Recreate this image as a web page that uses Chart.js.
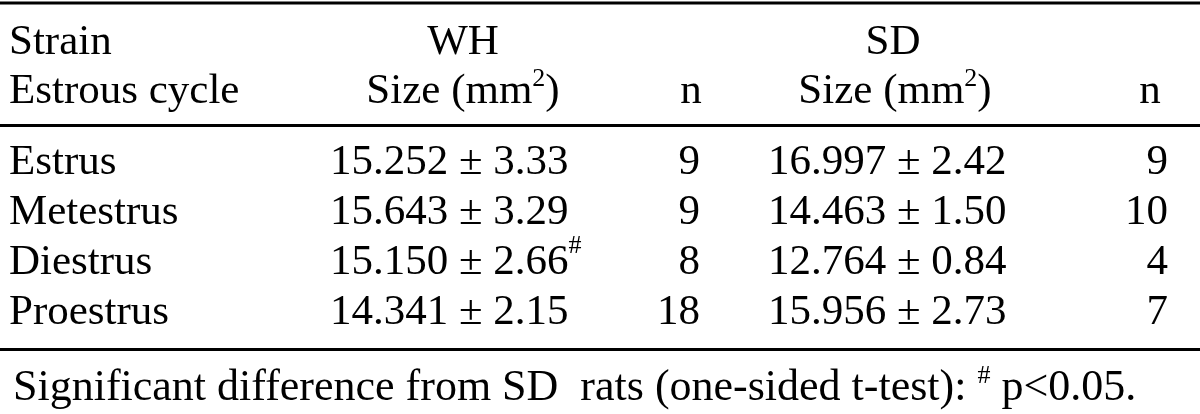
<!DOCTYPE html>
<html>
<head>
<meta charset="utf-8">
<script src="https://cdn.jsdelivr.net/npm/chart.js@4"></script>
<style>
  html, body { margin: 0; background: #fff; }
  #wrap { width: 1200px; height: 414px; position: relative; }
</style>
</head>
<body>
<div id="wrap"><canvas id="table"></canvas></div>
<script>
// table content
const phases = ['Estrus', 'Metestrus', 'Diestrus', 'Proestrus'];
const whMean = [15.252, 15.643, 15.150, 14.341];
const whSem = [3.33, 3.29, 2.66, 2.15];
const whN = [9, 9, 8, 18];
const whFlag = ['', '', '#', ''];
const sdMean = [16.997, 14.463, 12.764, 15.956];
const sdSem = [2.42, 1.50, 0.84, 2.73];
const sdN = [9, 10, 4, 7];
const strains = ['WH', 'SD'];
const footnote = 'Significant difference from SD  rats (one-sided t-test): ';
const footnoteTail = ' p<0.05.';

const SERIF = '"Liberation Serif", "Times New Roman", serif';
const FONT = `43px ${SERIF}`;
const SUP_FONT = `26px ${SERIF}`;
const NOTE_FONT = `44px ${SERIF}`;
const INK = '#000';

// column anchors along the x scale (0 = left edge of the value area)
const columns = [
  { anchor: 0, align: 'left', cell: i => [[`${whMean[i].toFixed(3)} ± ${whSem[i].toFixed(2)}`, false], [whFlag[i], true]] },
  { anchor: 370, align: 'right', cell: i => [[String(whN[i]), false]] },
  { anchor: 438, align: 'left', cell: i => [[`${sdMean[i].toFixed(3)} ± ${sdSem[i].toFixed(2)}`, false]] },
  { anchor: 838, align: 'right', cell: i => [[String(sdN[i]), false]] },
];

function drawRich(ctx, parts, x, y, align, font = FONT) {
  const widths = parts.map(([text, sup]) => {
    ctx.font = sup ? SUP_FONT : font;
    return ctx.measureText(text).width;
  });
  const total = widths.reduce((a, b) => a + b, 0);
  let cx = align === 'center' ? x - total / 2 : align === 'right' ? x - total : x;
  ctx.textAlign = 'left';
  parts.forEach(([text, sup], i) => {
    ctx.font = sup ? SUP_FONT : font;
    ctx.fillText(text, cx, sup ? y - 17 : y);
    cx += widths[i];
  });
}

const tablePlugin = {
  id: 'tableText',
  afterDatasetsDraw(chart) {
    const { ctx } = chart;
    ctx.save();
    ctx.fillStyle = INK;
    ctx.textBaseline = 'middle';
    chart.data.datasets.forEach((ds, d) => {
      const col = columns[d];
      chart.getDatasetMeta(d).data.forEach((pt, i) => {
        drawRich(ctx, col.cell(i), pt.x, pt.y, col.align);
      });
    });

    // header block
    ctx.textBaseline = 'alphabetic';
    drawRich(ctx, [['Strain', false]], 9, 54, 'left');
    drawRich(ctx, [['Estrous cycle', false]], 9, 103, 'left');
    drawRich(ctx, [[strains[0], false]], 463, 54, 'center');
    drawRich(ctx, [['Size (mm', false], ['2', true], [')', false]], 463, 103, 'center');
    drawRich(ctx, [['n', false]], 691, 103, 'center');
    drawRich(ctx, [[strains[1], false]], 893, 54, 'center');
    drawRich(ctx, [['Size (mm', false], ['2', true], [')', false]], 895, 103, 'center');
    drawRich(ctx, [['n', false]], 1150, 103, 'center');

    // rules
    ctx.fillRect(0, 1.5, chart.width, 3);
    ctx.fillRect(0, 124, chart.width, 3);
    ctx.fillRect(0, 348, chart.width, 3);

    // footnote
    drawRich(ctx, [[footnote, false], ['#', true], [footnoteTail, false]], 13, 400, 'left', NOTE_FONT);
    ctx.restore();
  },
};

new Chart(document.getElementById('table'), {
  type: 'scatter',
  data: {
    datasets: columns.map(col => ({
      data: phases.map(p => ({ x: col.anchor, y: p })),
      pointRadius: 0,
      pointHoverRadius: 0,
    })),
  },
  options: {
    responsive: true,
    maintainAspectRatio: false,
    animation: false,
    devicePixelRatio: 1,
    events: [],
    layout: { padding: { left: 9, right: 32, top: 138, bottom: 76 } },
    plugins: { legend: { display: false }, tooltip: { enabled: false } },
    scales: {
      x: { type: 'linear', display: false, min: 0, max: 838 },
      y: {
        type: 'category',
        labels: phases,
        offset: true,
        grid: { display: false, drawTicks: false },
        border: { display: false },
        afterFit(scale) { scale.width = 321; },
        ticks: {
          crossAlign: 'far',
          autoSkip: false,
          color: INK,
          font: { family: SERIF, size: 43 },
        },
      },
    },
  },
  plugins: [tablePlugin],
});
</script>
</body>
</html>
